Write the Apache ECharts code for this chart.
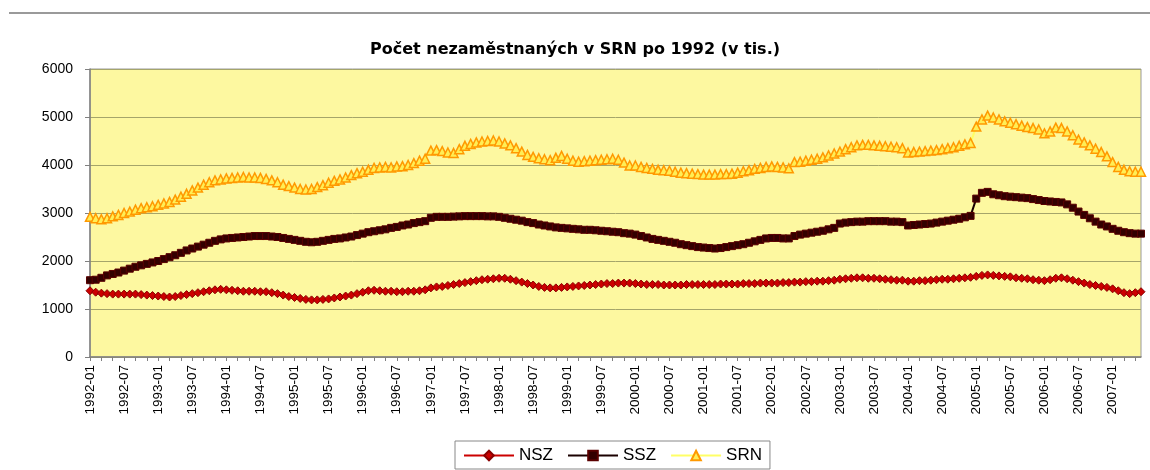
<!DOCTYPE html>
<html>
<head>
<meta charset="utf-8">
<script src="https://cdn.jsdelivr.net/npm/echarts@6/dist/echarts.min.js"></script>
<style>
html,body{margin:0;padding:0;background:#fff;}
#chart{width:1150px;height:470px;}
</style>
</head>
<body>
<div id="chart"></div>
<script>
// Month categories 1992-01 .. 2007-06
const years = [1992,1993,1994,1995,1996,1997,1998,1999,2000,2001,2002,2003,2004,2005,2006,2007];
const months = ['01','02','03','04','05','06','07','08','09','10','11','12'];
const categories = [];
years.forEach(y => months.forEach(m => { if (!(y === 2007 && +m > 6)) categories.push(y + '-' + m); }));

const titleText = 'Počet nezaměstnaných v SRN po 1992 (v tis.)';
const yTicks = [0, 1000, 2000, 3000, 4000, 5000, 6000];

// NSZ (nové spolkové země)
const nsz = [
1380,1350,1330,1320,1310,1310,1310,1310,1310,1300,1290,1280,
1270,1260,1250,1260,1280,1300,1320,1340,1360,1380,1400,1410,
1400,1390,1380,1370,1370,1370,1360,1360,1340,1320,1290,1260,
1240,1220,1200,1190,1190,1200,1210,1230,1250,1270,1290,1320,
1350,1380,1390,1380,1370,1370,1360,1360,1370,1370,1380,1400,
1440,1460,1470,1490,1510,1530,1550,1570,1590,1610,1620,1630,
1640,1640,1620,1590,1560,1530,1500,1470,1450,1440,1440,1450,
1460,1470,1480,1490,1500,1510,1520,1530,1530,1540,1540,1540,
1530,1520,1510,1510,1510,1500,1500,1500,1500,1510,1510,1510,
1510,1510,1510,1520,1520,1520,1520,1530,1530,1530,1540,1540,
1540,1540,1550,1550,1560,1560,1570,1570,1580,1580,1590,1600,
1620,1630,1640,1650,1650,1640,1640,1630,1620,1610,1600,1600,
1580,1580,1590,1590,1600,1610,1620,1620,1630,1640,1650,1660,
1680,1700,1710,1700,1690,1680,1670,1650,1640,1630,1610,1600,
1590,1610,1640,1650,1630,1600,1570,1540,1510,1490,1470,1450,
1420,1380,1340,1320,1340,1360
];
// SSZ (staré spolkové země)
const ssz = [
1600,1610,1650,1700,1730,1760,1800,1840,1880,1910,1940,1970,
2000,2040,2080,2120,2170,2220,2260,2300,2340,2380,2420,2450,
2470,2480,2490,2500,2510,2520,2520,2520,2510,2500,2480,2460,
2440,2420,2400,2390,2400,2420,2440,2460,2470,2490,2510,2540,
2570,2600,2620,2640,2660,2690,2710,2740,2760,2790,2810,2830,
2900,2920,2920,2920,2925,2930,2935,2935,2935,2935,2930,2930,
2920,2900,2880,2860,2840,2810,2790,2760,2740,2720,2700,2690,
2680,2670,2660,2650,2650,2640,2630,2620,2610,2600,2580,2570,
2550,2520,2490,2460,2440,2420,2400,2380,2350,2330,2310,2290,
2280,2270,2260,2270,2290,2310,2330,2350,2380,2410,2440,2470,
2480,2480,2470,2470,2520,2550,2570,2590,2610,2630,2660,2690,
2780,2800,2810,2820,2820,2830,2830,2830,2830,2820,2820,2810,
2740,2750,2760,2770,2780,2800,2820,2840,2860,2880,2910,2940,
3300,3420,3440,3390,3370,3350,3340,3330,3320,3310,3290,3270,
3250,3240,3230,3220,3180,3110,3030,2960,2890,2820,2760,2720,
2670,2630,2600,2580,2570,2570
];
// SRN (celkem)
const srn = [
2920,2890,2870,2890,2930,2960,3000,3030,3070,3100,3120,3140,
3170,3200,3230,3280,3340,3400,3470,3530,3590,3640,3680,3700,
3720,3730,3740,3750,3740,3740,3730,3710,3680,3640,3590,3560,
3530,3500,3490,3500,3540,3580,3630,3670,3700,3740,3790,3830,
3860,3900,3940,3950,3960,3950,3970,3975,4000,4040,4090,4130,
4300,4310,4290,4260,4250,4330,4400,4440,4470,4490,4500,4510,
4490,4450,4410,4350,4280,4210,4170,4140,4120,4100,4150,4190,
4130,4090,4070,4080,4090,4100,4110,4120,4130,4110,4050,3990,
3990,3960,3940,3920,3900,3890,3880,3860,3840,3830,3820,3810,
3800,3800,3800,3810,3810,3820,3840,3870,3890,3920,3940,3960,
3970,3960,3950,3930,4060,4070,4090,4110,4130,4160,4200,4240,
4280,4330,4370,4410,4420,4420,4410,4400,4390,4380,4370,4350,
4260,4270,4280,4290,4300,4310,4330,4350,4370,4400,4430,4460,
4800,4950,5030,4990,4950,4910,4880,4850,4820,4790,4770,4740,
4660,4700,4780,4770,4700,4620,4530,4470,4410,4340,4270,4180,
4060,3960,3900,3870,3860,3860
];

const chart = echarts.init(document.getElementById('chart'), null, {renderer: 'canvas'});
const font = 'Liberation Sans, Arial, sans-serif';
chart.setOption({
  backgroundColor: '#ffffff',
  animation: false,
  title: {
    text: titleText,
    left: 'center',
    top: 37,
    textStyle: {fontFamily: 'DejaVu Sans', fontSize: 16, fontWeight: 'bold', color: '#000'}
  },
  graphic: [{
    type: 'line',
    shape: {x1: 9, y1: 13, x2: 1150, y2: 13},
    style: {stroke: '#9a9a9a', lineWidth: 2}
  }],
  legend: {
    bottom: 1,
    left: 455,
    data: ['NSZ', 'SSZ', 'SRN'],
    itemWidth: 50,
    itemHeight: 12,
    itemGap: 14,
    padding: [6, 8, 5, 8],
    borderColor: '#888',
    borderWidth: 1,
    backgroundColor: '#fff',
    textStyle: {fontFamily: font, fontSize: 17, color: '#000'}
  },
  grid: {
    left: 90, right: 9, top: 69, bottom: 113,
    show: true,
    backgroundColor: '#fdf8a0',
    borderColor: '#9a9a9a',
    borderWidth: 1
  },
  xAxis: {
    type: 'category',
    data: categories,
    boundaryGap: false,
    axisLine: {lineStyle: {color: '#808080', width: 1.5}},
    axisTick: {show: true, interval: 1, length: 4, lineStyle: {color: '#808080'}},
    axisLabel: {
      interval: 5, rotate: 90, margin: 8,
      fontFamily: font, fontSize: 13.5, color: '#000'
    },
    splitLine: {show: false}
  },
  yAxis: {
    type: 'value',
    min: yTicks[0], max: yTicks[yTicks.length - 1], interval: 1000,
    axisLine: {show: true, lineStyle: {color: '#808080', width: 1.5}},
    axisTick: {show: true, length: 5, lineStyle: {color: '#808080'}},
    axisLabel: {fontFamily: font, fontSize: 14, color: '#000', margin: 17,
      formatter: v => String(v)},
    splitLine: {lineStyle: {color: '#a5a56a', width: 1}}
  },
  series: [
    {
      name: 'NSZ', type: 'line', data: nsz,
      symbol: 'diamond', symbolSize: 8, showAllSymbol: true,
      lineStyle: {color: '#cc0000', width: 2},
      itemStyle: {color: '#cc0000', borderColor: '#8b0000', borderWidth: 1}
    },
    {
      name: 'SSZ', type: 'line', data: ssz,
      symbol: 'rect', symbolSize: 7, showAllSymbol: true,
      lineStyle: {color: '#1a0000', width: 2},
      itemStyle: {color: '#330000', borderColor: '#5a0000', borderWidth: 1}
    },
    {
      name: 'SRN', type: 'line', data: srn,
      symbol: 'triangle', symbolSize: 9, showAllSymbol: true,
      lineStyle: {color: '#ffff66', width: 2},
      itemStyle: {color: '#ffee55', borderColor: '#ff9900', borderWidth: 1.5}
    }
  ]
});
</script>
</body>
</html>
